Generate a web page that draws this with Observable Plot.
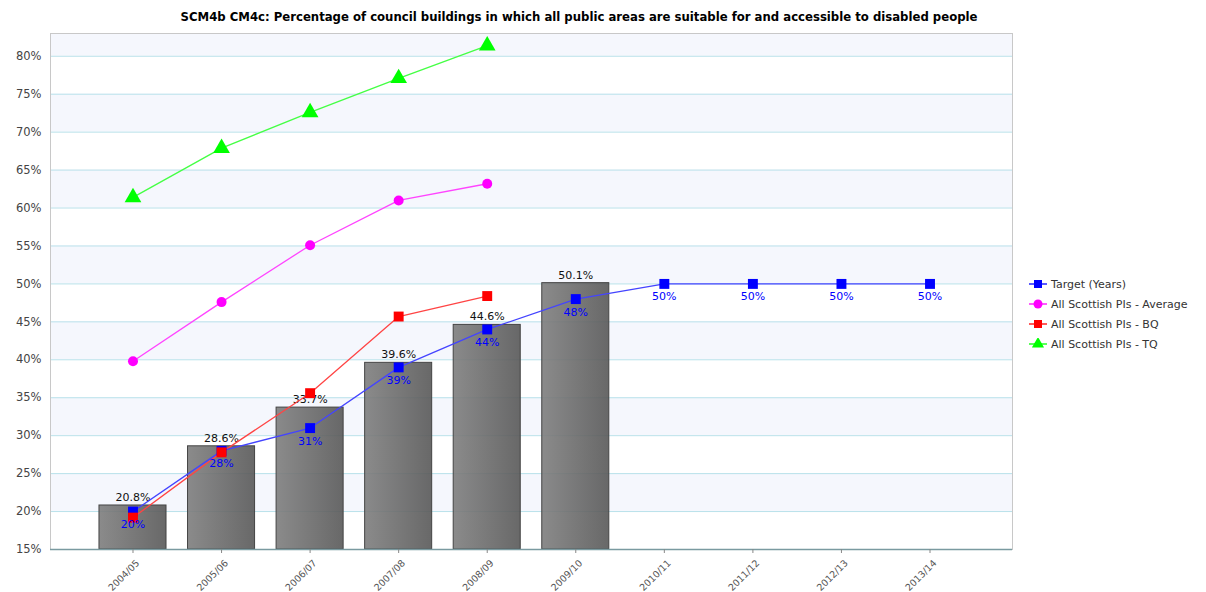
<!DOCTYPE html>
<html>
<head>
<meta charset="utf-8">
<script src="https://cdn.jsdelivr.net/npm/d3@7"></script>
<script src="https://cdn.jsdelivr.net/npm/@observablehq/plot@0.6"></script>
<style>
  html, body { margin: 0; padding: 0; background: #fff; }
  #wrap { position: relative; width: 1206px; height: 592px; overflow: hidden; }
  #title { position: absolute; top: 10px; left: 129px; width: 900px; text-align: center;
           font: bold 11.7px "DejaVu Sans", sans-serif; color: #000; white-space: nowrap; }
  #legend { position: absolute; left: 1028px; top: 274px; font: 11px "DejaVu Sans", sans-serif; color: #333; }
  #legend .row { height: 20px; display: flex; align-items: center; }
  #legend svg { margin-right: 3px; }
</style>
</head>
<body>
<div id="wrap">
  <div id="title"></div>
  <div id="chart"></div>
  <div id="legend"></div>
</div>
<script>
const titleText = "SCM4b CM4c: Percentage of council buildings in which all public areas are suitable for and accessible to disabled people";
const years = ["2004/05","2005/06","2006/07","2007/08","2008/09","2009/10","2010/11","2011/12","2012/13","2013/14"];
const actual = [20.8, 28.6, 33.7, 39.6, 44.6, 50.1];
const target = [20, 28, 31, 39, 44, 48, 50, 50, 50, 50];
const average = [39.8, 47.6, 55.1, 61.0, 63.2];
const bq = [19.2, 27.8, 35.6, 45.7, 48.4];
const tq = [61.4, 67.9, 72.6, 77.1, 81.4];
const yTicks = [15, 20, 25, 30, 35, 40, 45, 50, 55, 60, 65, 70, 75, 80];
const yDomain = [15, 83];
const seriesNames = ["Target (Years)", "All Scottish PIs - Average", "All Scottish PIs - BQ", "All Scottish PIs - TQ"];
const seriesColors = ["#0000ff", "#ff00ff", "#ff0000", "#00ff00"];
const seriesLineColors = ["#4444ff", "#ff44ff", "#ff4444", "#44ff44"];
const seriesSymbols = ["square", "circle", "square", "triangle"];

document.getElementById("title").textContent = titleText;

const toRows = (vals) => vals.map((v, i) => ({year: years[i], value: v}));
const actualRows = toRows(actual);
const targetRows = toRows(target);
const seriesRows = [targetRows, toRows(average), toRows(bq), toRows(tq)];
const bands = yTicks.filter((t, i) => i % 2 === 1).map(t => ({y1: t, y2: Math.min(t + 5, yDomain[1])}));

const font = "DejaVu Sans, sans-serif";

const marks = [
  Plot.rectY(bands, {y1: "y1", y2: "y2", fill: "#f5f7fd"}),
  Plot.ruleY(yTicks.slice(1), {stroke: "#b9e1ea", strokeWidth: 1}),
  Plot.barY(actualRows, {x: "year", y1: yDomain[0], y2: "value", fill: "url(#barGrad)", stroke: "#444", strokeWidth: 1, fillOpacity: 0.9}),
  Plot.text(actualRows, {x: "year", y: "value", text: d => d.value.toFixed(1) + "%", dy: -8, fill: "#111", fontSize: 11, fontFamily: font}),
];
[3, 1, 2, 0].forEach(k => {
  marks.push(Plot.line(seriesRows[k], {x: "year", y: "value", stroke: seriesLineColors[k], strokeWidth: 1.3}));
});
[3, 1, 0, 2].forEach(k => {
  const r = seriesSymbols[k] === "triangle" ? 6.2 : (seriesSymbols[k] === "circle" ? 5 : 5.6);
  marks.push(Plot.dot(seriesRows[k], {x: "year", y: "value", symbol: seriesSymbols[k], fill: seriesColors[k], stroke: "none", r}));
});
marks.push(Plot.text(targetRows, {x: "year", y: "value", text: d => d.value + "%", dy: 13, fill: "#0000ff", fontSize: 11, fontFamily: font}));
marks.push(Plot.ruleX([0], {frameAnchor: "left", stroke: "#888", strokeWidth: 1.5}));
marks.push(Plot.frame({stroke: "#c8c8c8"}));
marks.push(Plot.ruleY([yDomain[0]], {stroke: "#7a9aa0", strokeWidth: 1.5}));
marks.push(Plot.axisY({ticks: yTicks, tickFormat: d => d + "%", tickSize: 0, tickPadding: 9, fontSize: 11.5, fill: "#444", fontFamily: font}));
marks.push(Plot.axisX({tickSize: 4, stroke: "#888", tickFormat: null, text: null}));
marks.push(Plot.axisX({tickRotate: -45, tickSize: 0, tickPadding: 4, dx: 5, dy: 8, fontSize: 9.5, fill: "#555", fontFamily: font}));

const chart = Plot.plot({
  width: 1206,
  height: 592,
  marginLeft: 50,
  marginRight: 194,
  marginTop: 33,
  marginBottom: 43,
  style: {background: "transparent", overflow: "visible"},
  x: {type: "band", domain: years, paddingInner: 0.243, paddingOuter: 0.553, round: false, label: null},
  y: {domain: yDomain, label: null},
  marks
});

const svg = d3.select(chart.tagName.toLowerCase() === "svg" ? chart : chart.querySelector("svg"));
const defs = svg.insert("defs", ":first-child");
const g = defs.append("linearGradient").attr("id", "barGrad").attr("x1", "0").attr("x2", "1").attr("y1", "0").attr("y2", "0");
g.append("stop").attr("offset", "0").attr("stop-color", "#7e7e7e");
g.append("stop").attr("offset", "1").attr("stop-color", "#585858");

document.getElementById("chart").appendChild(chart);

const legend = d3.select("#legend");
seriesNames.forEach((name, k) => {
  const row = legend.append("div").attr("class", "row");
  const s = row.append("svg").attr("width", 20).attr("height", 12);
  s.append("line").attr("x1", 1).attr("x2", 19).attr("y1", 6).attr("y2", 6).attr("stroke", seriesColors[k]).attr("stroke-width", 1.3);
  const sym = seriesSymbols[k] === "square" ? d3.symbolSquare : seriesSymbols[k] === "circle" ? d3.symbolCircle : d3.symbolTriangle;
  s.append("path").attr("d", d3.symbol(sym, 64)()).attr("transform", "translate(10,6)").attr("fill", seriesColors[k]);
  row.append("span").text(name);
});
</script>
</body>
</html>
